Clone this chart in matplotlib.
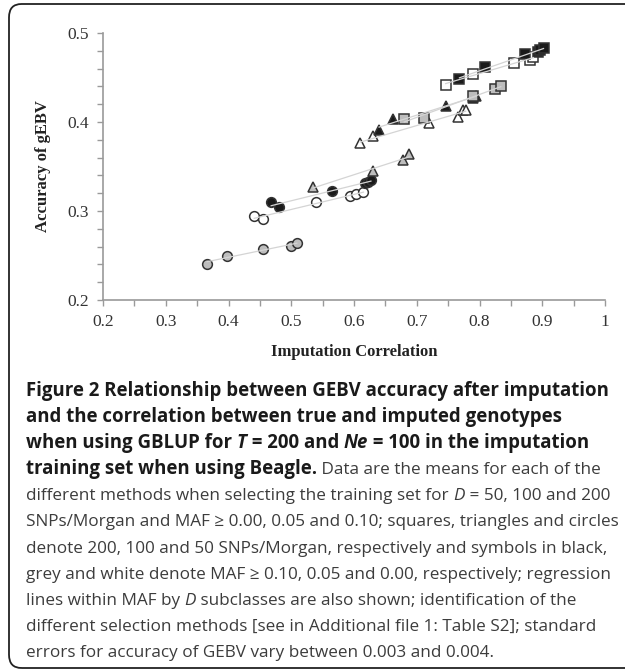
import numpy as np
import matplotlib
matplotlib.use("Agg")
import matplotlib.pyplot as plt
from matplotlib.patches import FancyBboxPatch
from matplotlib.ticker import MultipleLocator

W, H = 625, 670

# data: circles = 50, triangles = 100, squares = 200 SNPs/Morgan
# black = MAF >= 0.10, grey = MAF >= 0.05, white = MAF >= 0.00
x_c_grey = [0.366, 0.398, 0.455, 0.499, 0.509]
y_c_grey = [0.241, 0.250, 0.257, 0.261, 0.264]
x_c_white = [0.441, 0.455, 0.539, 0.593, 0.603, 0.615]
y_c_white = [0.294, 0.291, 0.310, 0.317, 0.319, 0.321]
x_c_black = [0.468, 0.480, 0.565, 0.617, 0.623, 0.627]
y_c_black = [0.310, 0.304, 0.322, 0.331, 0.333, 0.335]
x_t_grey = [0.535, 0.630, 0.678, 0.688]
y_t_grey = [0.327, 0.345, 0.357, 0.364]
x_t_white = [0.610, 0.631, 0.720, 0.765, 0.773, 0.778]
y_t_white = [0.376, 0.384, 0.399, 0.406, 0.413, 0.414]
x_t_black = [0.640, 0.662, 0.746, 0.789, 0.795]
y_t_black = [0.391, 0.403, 0.418, 0.427, 0.429]
x_s_grey = [0.680, 0.711, 0.789, 0.824, 0.834]
y_s_grey = [0.403, 0.404, 0.429, 0.437, 0.440]
x_s_white = [0.746, 0.790, 0.855, 0.881, 0.886]
y_s_white = [0.442, 0.454, 0.466, 0.470, 0.473]
x_s_black = [0.768, 0.809, 0.872, 0.894, 0.897, 0.902]
y_s_black = [0.448, 0.462, 0.476, 0.479, 0.481, 0.483]

x_ticks = [0.2, 0.3, 0.4, 0.5, 0.6, 0.7, 0.8, 0.9, 1.0]
x_ticklabels = ["0.2", "0.3", "0.4", "0.5", "0.6", "0.7", "0.8", "0.9", "1"]
y_ticks = [0.2, 0.3, 0.4, 0.5]
y_ticklabels = ["0.2", "0.3", "0.4", "0.5"]

groups = [
    (x_c_grey, y_c_grey, "o", "#bdbdbd"),
    (x_c_white, y_c_white, "o", "white"),
    (x_c_black, y_c_black, "o", "#1a1a1a"),
    (x_t_grey, y_t_grey, "^", "#bdbdbd"),
    (x_t_white, y_t_white, "^", "white"),
    (x_t_black, y_t_black, "^", "#1a1a1a"),
    (x_s_grey, y_s_grey, "s", "#bdbdbd"),
    (x_s_white, y_s_white, "s", "white"),
    (x_s_black, y_s_black, "s", "#1a1a1a"),
]

caption = [
    [("Figure 2 Relationship between GEBV accuracy after imputation", "b")],
    [("and the correlation between true and imputed genotypes", "b")],
    [("when using GBLUP for ", "b"), ("T", "bi"), (" = 200 and ", "b"), ("Ne", "bi"),
     (" = 100 in the imputation", "b")],
    [("training set when using Beagle.", "b"), (" Data are the means for each of the", "r")],
    [("different methods when selecting the training set for ", "r"), ("D", "i"),
     (" = 50, 100 and 200", "r")],
    [("SNPs/Morgan and MAF \u2265 0.00, 0.05 and 0.10; squares, triangles and circles", "r")],
    [("denote 200, 100 and 50 SNPs/Morgan, respectively and symbols in black,", "r")],
    [("grey and white denote MAF \u2265 0.10, 0.05 and 0.00, respectively; regression", "r")],
    [("lines within MAF by ", "r"), ("D", "i"), (" subclasses are also shown; identification of the", "r")],
    [("different selection methods [see in Additional file 1: Table S2]; standard", "r")],
    [("errors for accuracy of GEBV vary between 0.003 and 0.004.", "r")],
]

SERIF = ["Liberation Serif", "DejaVu Serif"]
SANS = ["Open Sans", "DejaVu Sans"]

fig = plt.figure(figsize=(W / 100, H / 100), dpi=100)

# rounded frame (right side runs off the picture)
frame = FancyBboxPatch((9 / W, 2 / H), 640 / W, 664 / H,
                       boxstyle="round,pad=0,rounding_size=0.02",
                       transform=fig.transFigure, fc="none", ec="#222222", lw=1.3)
fig.patches.append(frame)

ax = fig.add_axes([103 / W, 1 - 300 / H, 502 / W, 267 / H])
for x, y, m, c in groups:
    ax.plot(x, y, ls="none", marker=m, ms=7 if m != "s" else 6.5, mfc=c,
            mec="#333333", mew=1.1, zorder=3)
    k, b = np.polyfit(x, y, 1)
    xx = np.array([min(x), max(x)])
    ax.plot(xx, k * xx + b, color="#d4d4d4", lw=0.9, zorder=4)

ax.set_xlim(0.2, 1.0)
ax.set_ylim(0.2, 0.5)
ax.set_xticks(x_ticks)
ax.set_xticklabels(x_ticklabels)
ax.set_yticks(y_ticks)
ax.set_yticklabels(y_ticklabels)
ax.xaxis.set_minor_locator(MultipleLocator(0.05))
ax.yaxis.set_minor_locator(MultipleLocator(0.02))
for s in ["top", "right"]:
    ax.spines[s].set_visible(False)
for s in ["left", "bottom"]:
    ax.spines[s].set_color("#9a9a9a")
    ax.spines[s].set_linewidth(1.2)
ax.tick_params(which="both", direction="out", length=4, width=1, color="#9a9a9a",
               labelsize=12.5, labelcolor="#333333", pad=6)
for lab in ax.get_xticklabels() + ax.get_yticklabels():
    lab.set_family(SERIF)
ax.set_xlabel("Imputation Correlation", family=SERIF, fontweight="bold", fontsize=12,
              color="#222222", labelpad=10)
ax.set_ylabel("Accuracy of gEBV", family=SERIF, fontweight="bold", fontsize=12,
              color="#222222", labelpad=12)

# caption, drawn piece by piece
fig.canvas.draw()
rend = fig.canvas.get_renderer()


def seg_width(s, **kw):
    t1 = fig.text(0, 0, s + "|", **kw)
    t2 = fig.text(0, 0, "|", **kw)
    w = t1.get_window_extent(rend).width - t2.get_window_extent(rend).width
    t1.remove()
    t2.remove()
    return w


def style(st, size):
    kw = dict(family=SANS, fontsize=size, va="baseline", ha="left")
    if "b" in st:
        kw.update(fontweight="bold", color="#1a1a1a")
    else:
        kw.update(fontweight="normal", color="#3c3c3c")
    if "i" in st:
        kw.update(fontstyle="italic")
    return kw


b_size = 10 * 585 / seg_width(caption[0][0][0], **style("b", 10))
r_size = 10 * 585 / seg_width(caption[4][0][0] + "D = 50, 100 and 200", **style("r", 10))

y0 = 396
for i, line in enumerate(caption):
    x = 26
    y = y0 + i * 26.1
    for s, st in line:
        kw = style(st, b_size if "b" in st else r_size)
        fig.text(x / W, 1 - y / H, s, **kw)
        x += seg_width(s, **kw)

fig.savefig("out.png", dpi=100)
